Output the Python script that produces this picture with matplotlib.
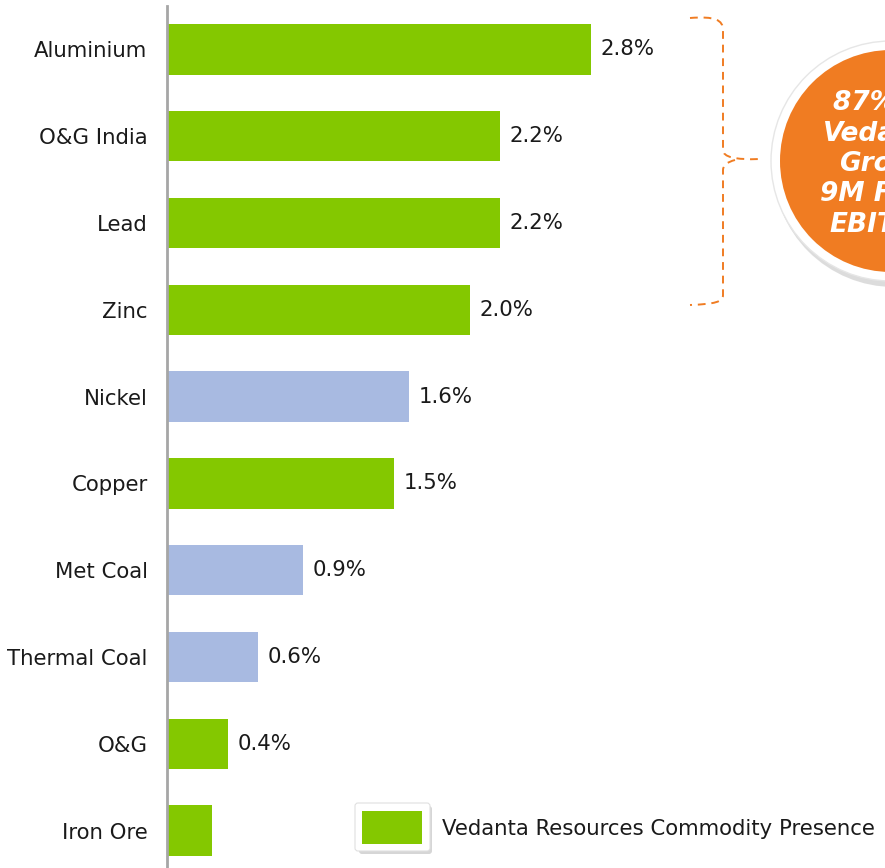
import matplotlib
matplotlib.use("Agg")
import matplotlib.pyplot as plt
from matplotlib.patches import FancyBboxPatch, Rectangle, Circle
from matplotlib.path import Path
from matplotlib.patches import PathPatch

categories = ["Aluminium", "O&G India", "Lead", "Zinc", "Nickel", "Copper",
              "Met Coal", "Thermal Coal", "O&G", "Iron Ore"]
values = [2.8, 2.2, 2.2, 2.0, 1.6, 1.5, 0.9, 0.6, 0.4, 0.3]
presence = [True, True, True, True, False, True, False, False, True, True]
labels = ["2.8%", "2.2%", "2.2%", "2.0%", "1.6%", "1.5%", "0.9%", "0.6%", "0.4%", ""]
legend_label = "Vedanta Resources Commodity Presence"
callout_text = "87% of\nVedanta\nGroup\n9M FY22\nEBITDA"

GREEN = "#84C800"
BLUE = "#A8BAE1"
ORANGE = "#F07C22"

W, H = 885, 868
fig = plt.figure(figsize=(W / 100, H / 100), dpi=100)
plt.rcParams["font.family"] = ["DejaVu Sans"]
FS = 15.3

ax = fig.add_axes([167 / W, 0, 1 - 167 / W, (H - 6) / H])
colors = [GREEN if p else BLUE for p in presence]
ypos = list(range(len(categories)))
bars = ax.barh(ypos, values, height=0.58, color=colors, zorder=2)
ax.set_xlim(0, (W - 167) / 151.4)
ax.set_ylim(9.43, -0.5)
ax.set_yticks(ypos)
ax.set_yticklabels(categories, fontsize=FS, color="#1a1a1a")
ax.tick_params(axis="y", length=0, pad=14)
ax.set_xticks([])
for s in ["top", "right", "bottom"]:
    ax.spines[s].set_visible(False)
ax.spines["left"].set_color("#A6A6A6")
ax.spines["left"].set_linewidth(2)

for b, lab in zip(bars, labels):
    if lab:
        ax.annotate(lab, (b.get_width(), b.get_y() + b.get_height() / 2),
                    xytext=(7, 0), textcoords="offset points",
                    va="center", ha="left", fontsize=FS, color="#1a1a1a")

# overlay axes in pixel coordinates for decorations
ov = fig.add_axes([0, 0, 1, 1], facecolor="none")
ov.set_xlim(0, W)
ov.set_ylim(H, 0)
ov.axis("off")

# brace (dashed)
verts = [(690, 18), (715, 16), (723, 20), (723, 30),
         (723, 150), (723, 157), (735, 160), (760, 159)]
codes = [Path.MOVETO, Path.CURVE4, Path.CURVE4, Path.CURVE4,
         Path.LINETO, Path.CURVE4, Path.CURVE4, Path.CURVE4]
ov.add_patch(PathPatch(Path(verts, codes), fill=False, ec=ORANGE, lw=1.4, ls=(0, (4, 3))))
verts2 = [(735, 160), (723, 163), (723, 170),
          (723, 295), (723, 302), (715, 304), (690, 305)]
codes2 = [Path.MOVETO, Path.CURVE3, Path.CURVE3,
          Path.LINETO, Path.CURVE4, Path.CURVE4, Path.CURVE4]
ov.add_patch(PathPatch(Path(verts2, codes2), fill=False, ec=ORANGE, lw=1.4, ls=(0, (4, 3))))

# callout circle
ov.add_patch(Circle((894, 166), 121, fc="#bbbbbb", ec="none", alpha=0.5))
ov.add_patch(Circle((891, 161), 120, fc="white", ec="#e6e6e6", lw=1))
ov.add_patch(Circle((891, 161), 111, fc=ORANGE, ec="none"))
ov.text(884, 164, callout_text, ha="center", va="center", color="white",
        fontsize=19, fontweight="bold", fontstyle="italic", linespacing=1.22)

# legend
ov.add_patch(FancyBboxPatch((359, 806), 73, 48, boxstyle="round,pad=0,rounding_size=3",
                            fc="#bbbbbb", ec="none", alpha=0.6))
ov.add_patch(FancyBboxPatch((355, 803), 75, 48, boxstyle="round,pad=0,rounding_size=3",
                            fc="white", ec="#e0e0e0", lw=0.8))
ov.add_patch(Rectangle((362, 811), 60, 33, fc=GREEN, ec="none"))
ov.text(442, 829, legend_label, ha="left", va="center", fontsize=FS, color="#1a1a1a")

fig.savefig("out.png", dpi=100)
